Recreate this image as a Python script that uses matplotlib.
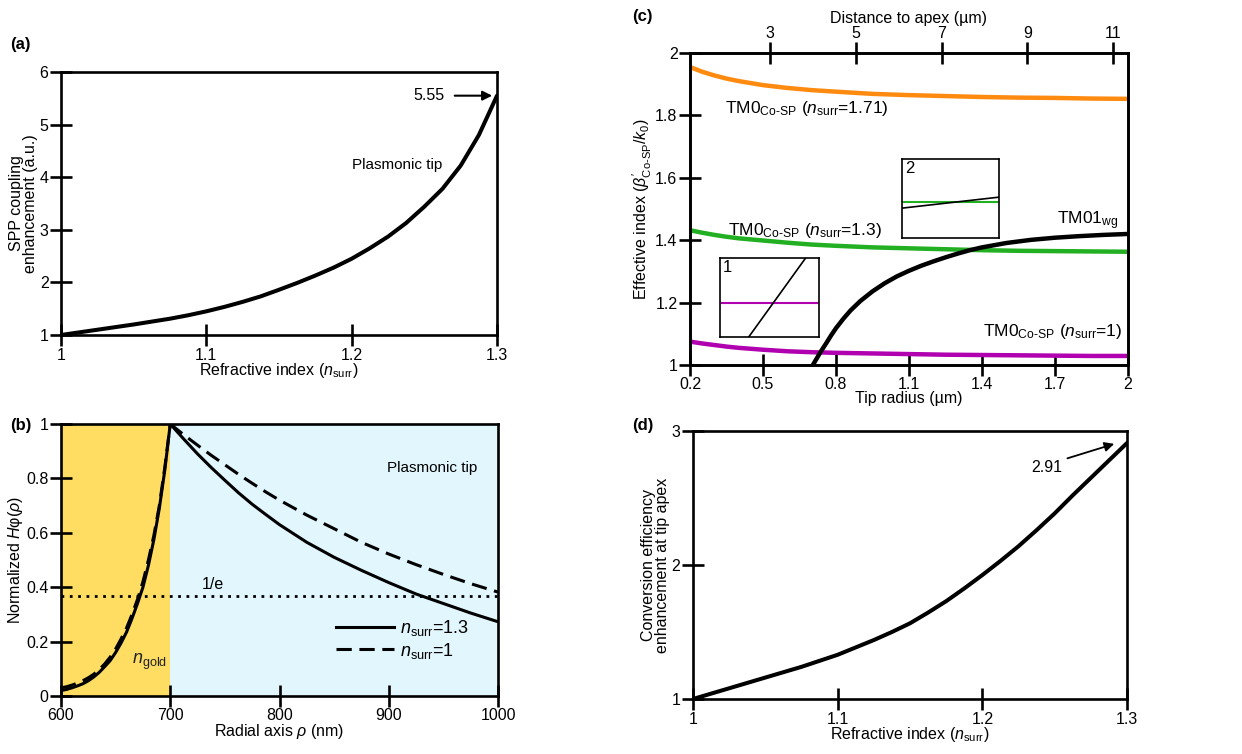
"""Four-panel figure: SPP coupling vs n_surr, field profiles, mode dispersion, conversion efficiency."""
import matplotlib
matplotlib.use("Agg")
import matplotlib.pyplot as plt
import numpy as np

plt.rcParams.update({
    "font.family": ["Liberation Sans", "DejaVu Sans"],
    "font.size": 11.5,
    "mathtext.fontset": "custom",
    "mathtext.rm": "Liberation Sans",
    "mathtext.it": "Liberation Sans:italic",
    "mathtext.bf": "Liberation Sans:bold",
    "axes.linewidth": 1.9,
    "xtick.direction": "inout",
    "ytick.direction": "inout",
    "xtick.major.size": 16,
    "ytick.major.size": 16,
    "xtick.major.width": 1.9,
    "ytick.major.width": 1.9,
    "xtick.major.pad": 1,
    "ytick.major.pad": 1,
    "xtick.labelsize": 11.5,
    "ytick.labelsize": 11.5,
})

# (a) SPP coupling enhancement vs surrounding index
n_a = [1.0, 1.0125, 1.025, 1.0375, 1.05, 1.0625, 1.075, 1.0875, 1.1, 1.1125, 1.125, 1.1375,
       1.15, 1.1625, 1.175, 1.1875, 1.2, 1.2125, 1.225, 1.2375, 1.25, 1.2625, 1.275, 1.2875, 1.3]
spp_enh = [1.0, 1.05, 1.1, 1.15, 1.2, 1.255, 1.31, 1.375, 1.45, 1.535, 1.63, 1.735,
           1.86, 1.99, 2.13, 2.28, 2.45, 2.65, 2.87, 3.13, 3.44, 3.78, 4.22, 4.8, 5.55]

# (b) normalized H_phi profile across the gold / surrounding interface
rho_in = [600, 605, 610, 615, 620, 625, 630, 635, 640, 645, 650, 655, 660, 665, 670, 675,
          680, 685, 690, 695, 700]
h_in_13 = [0.02, 0.024, 0.03, 0.037, 0.045, 0.056, 0.07, 0.087, 0.108, 0.13, 0.16, 0.195,
           0.235, 0.285, 0.34, 0.40, 0.48, 0.575, 0.69, 0.83, 1.0]
h_in_10 = [0.03, 0.034, 0.04, 0.047, 0.056, 0.067, 0.08, 0.097, 0.118, 0.143, 0.173, 0.21,
           0.25, 0.30, 0.355, 0.42, 0.5, 0.59, 0.7, 0.84, 1.0]
rho_out = [700, 712.5, 725, 737.5, 750, 762.5, 775, 787.5, 800, 825, 850, 875, 900, 925, 950,
           975, 1000]
h_out_13 = [1.0, 0.944, 0.89, 0.84, 0.793, 0.747, 0.705, 0.667, 0.63, 0.565, 0.51, 0.462,
            0.417, 0.375, 0.34, 0.305, 0.273]
h_out_10 = [1.0, 0.96, 0.922, 0.885, 0.85, 0.815, 0.782, 0.75, 0.72, 0.665, 0.615, 0.565,
            0.522, 0.483, 0.447, 0.413, 0.382]

# (c) effective index vs tip radius
radius = [0.2, 0.25, 0.3, 0.35, 0.4, 0.5, 0.6, 0.7, 0.8, 0.95, 1.1, 1.25, 1.4, 1.55, 1.7, 1.85, 2.0]
neff_171 = [1.955, 1.94, 1.928, 1.918, 1.91, 1.897, 1.888, 1.881, 1.876, 1.869, 1.865, 1.862,
            1.859, 1.857, 1.856, 1.854, 1.853]
neff_13 = [1.432, 1.424, 1.417, 1.411, 1.406, 1.399, 1.392, 1.386, 1.382, 1.377, 1.374, 1.371,
           1.368, 1.366, 1.365, 1.364, 1.363]
neff_10 = [1.075, 1.069, 1.064, 1.059, 1.055, 1.049, 1.044, 1.041, 1.039, 1.037, 1.035, 1.033,
           1.032, 1.031, 1.030, 1.029, 1.029]
radius_wg = [0.705, 0.72, 0.74, 0.76, 0.78, 0.8, 0.83, 0.86, 0.9, 0.95, 1.0, 1.05, 1.1, 1.15,
             1.2, 1.25, 1.3, 1.35, 1.4, 1.5, 1.6, 1.7, 1.8, 1.9, 2.0]
neff_wg = [1.0, 1.02, 1.046, 1.07, 1.095, 1.118, 1.148, 1.175, 1.205, 1.236, 1.262, 1.284,
           1.302, 1.318, 1.332, 1.345, 1.357, 1.368, 1.377, 1.391, 1.401, 1.408, 1.413, 1.417, 1.42]
apex_ticks = [3, 5, 7, 9, 11]
apex_lim = (1.125, 11.35)

# zoomed crossings (normalized inset coordinates)
inset1_x = [0.29, 0.865]
inset1_wg = [0.0, 1.0]
inset1_sp = [0.43, 0.43]
inset2_x = [0.0, 1.0]
inset2_wg = [0.378, 0.517]
inset2_sp = [0.45, 0.45]

# (d) conversion efficiency enhancement at the apex
n_d = [1.0, 1.0125, 1.025, 1.0375, 1.05, 1.0625, 1.075, 1.0875, 1.1, 1.1125, 1.125, 1.1375,
       1.15, 1.1625, 1.175, 1.1875, 1.2, 1.2125, 1.225, 1.2375, 1.25, 1.2625, 1.275, 1.2875, 1.3]
conv_enh = [1.0, 1.04, 1.08, 1.12, 1.16, 1.2, 1.24, 1.285, 1.33, 1.385, 1.44, 1.5,
            1.565, 1.645, 1.73, 1.825, 1.925, 2.03, 2.14, 2.26, 2.385, 2.52, 2.65, 2.78, 2.91]

ORANGE = "#ff8a10"
GREEN = "#22b022"
PURPLE = "#b000b0"
GOLD = "#ffdd63"
SKY = "#e2f6fd"

W, H = 1242, 754
fig = plt.figure(figsize=(W / 100, H / 100), dpi=100)


def px_axes(x0, y0, x1, y1, **kw):
    return fig.add_axes([x0 / W, 1 - y1 / H, (x1 - x0) / W, (y1 - y0) / H], **kw)


def nsurr_label(ax):
    ax.set_xlabel(r"Refractive index ($n_{\rm surr}$)", labelpad=-1)


# --- (a) ---
ax = px_axes(61, 72, 497, 335)
ax.plot(n_a, spp_enh, color="k", lw=2.9, solid_capstyle="round")
ax.set_xlim(1, 1.3)
ax.set_ylim(1, 6)
ax.set_xticks([1, 1.1, 1.2, 1.3])
ax.set_xticklabels(["1", "1.1", "1.2", "1.3"])
ax.set_yticks([1, 2, 3, 4, 5, 6])
nsurr_label(ax)
ax.set_ylabel("SPP coupling\nenhancement (a.u.)", labelpad=1, linespacing=0.95)
ax.annotate("", xy=(1.2986, spp_enh[-1]), xytext=(1.269, spp_enh[-1]),
            arrowprops=dict(arrowstyle="-|>", color="k", lw=1.5, mutation_scale=14))
ax.text(1.264, spp_enh[-1], "5.55", ha="right", va="center")
ax.text(1.262, 4.23, "Plasmonic tip", ha="right", va="center", fontsize=11)

# --- (b) ---
ax = px_axes(61, 424, 498, 696)
ax.axvspan(600, 700, color=GOLD, lw=0)
ax.axvspan(700, 1000, color=SKY, lw=0)
ax.plot(rho_in, h_in_13, color="k", lw=2.2)
ax.plot(rho_in, h_in_10, color="k", lw=2.2, ls=(0, (5, 2.5)))
ax.plot(rho_out, h_out_13, color="k", lw=2.2, label=r"$n_{\rm surr}$=1.3")
ax.plot(rho_out, h_out_10, color="k", lw=2.2, ls=(0, (5, 2.5)), label=r"$n_{\rm surr}$=1")
ax.axhline(1 / np.e, color="k", lw=2.0, ls=(0, (1, 2.0)))
ax.set_xlim(600, 1000)
ax.set_ylim(0, 1)
ax.set_xticks([600, 700, 800, 900, 1000])
ax.set_yticks([0, 0.2, 0.4, 0.6, 0.8, 1])
ax.set_yticklabels(["0", "0.2", "0.4", "0.6", "0.8", "1"])
ax.set_xlabel(r"Radial axis $\rho$ (nm)", labelpad=-1)
ax.set_ylabel(r"Normalized $H$φ($\rho$)", labelpad=1)
ax.text(739, 0.41, "1/e", ha="center", va="center")
ax.text(981, 0.84, "Plasmonic tip", ha="right", va="center", fontsize=11)
ax.text(665, 0.125, r"$n_{\rm gold}$", ha="left", va="center", fontsize=13, color="#222222")
ax.legend(loc="lower right", frameon=False, handlelength=3.2, handletextpad=0.3,
          labelspacing=0.15, fontsize=13, bbox_to_anchor=(0.97, 0.07))

# --- (c) ---
ax = px_axes(690, 53, 1128, 365)
ax.plot(radius, neff_171, color=ORANGE, lw=3.2)
ax.plot(radius, neff_13, color=GREEN, lw=3.2)
ax.plot(radius, neff_10, color=PURPLE, lw=3.2)
ax.plot(radius_wg, neff_wg, color="k", lw=3.2)
ax.set_xlim(0.2, 2)
ax.set_ylim(1, 2)
ax.set_xticks([0.2, 0.5, 0.8, 1.1, 1.4, 1.7, 2.0])
ax.set_xticklabels(["0.2", "0.5", "0.8", "1.1", "1.4", "1.7", "2"])
ax.set_yticks([1, 1.2, 1.4, 1.6, 1.8, 2])
ax.set_yticklabels(["1", "1.2", "1.4", "1.6", "1.8", "2"])
ax.set_xlabel("Tip radius (µm)", labelpad=-1)
ax.set_ylabel(r"Effective index ($\beta^{\prime}_{\text{Co-SP}}/k_0$)", labelpad=1)
ax.text(0.344, 1.823, r"TM0$_{\text{Co-SP}}$ ($n_{\rm surr}$=1.71)", ha="left", va="center",
        fontsize=12.5)
ax.text(0.356, 1.432, r"TM0$_{\text{Co-SP}}$ ($n_{\rm surr}$=1.3)", ha="left", va="center",
        fontsize=12.5)
ax.text(1.405, 1.106, r"TM0$_{\text{Co-SP}}$ ($n_{\rm surr}$=1)", ha="left", va="center",
        fontsize=12.5)
ax.text(1.708, 1.464, r"TM01$_{\rm wg}$", ha="left", va="center", fontsize=12.5)

top = ax.twiny()
top.set_xlim(*apex_lim)
top.set_xticks(apex_ticks)
top.set_xlabel("Distance to apex (µm)", labelpad=2)
top.tick_params(axis="x", pad=1)

for (x0, y0, x1, y1), xs, wg, sp, col, tag in [
        ((720, 258, 819, 337), inset1_x, inset1_wg, inset1_sp, PURPLE, "1"),
        ((902, 159, 999, 238), inset2_x, inset2_wg, inset2_sp, GREEN, "2")]:
    ins = px_axes(x0, y0, x1, y1)
    ins.patch.set_alpha(0)
    for s in ins.spines.values():
        s.set_linewidth(1.2)
    ins.plot([0, 1], sp, color=col, lw=1.5)
    ins.plot(xs, wg, color="k", lw=1.2)
    ins.set_xlim(0, 1)
    ins.set_ylim(0, 1)
    ins.set_xticks([])
    ins.set_yticks([])
    ins.text(0.03, 0.97, tag, transform=ins.transAxes, ha="left", va="top", fontsize=12)

# --- (d) ---
ax = px_axes(693, 431, 1127, 699)
ax.plot(n_d, conv_enh, color="k", lw=2.9, solid_capstyle="round")
ax.set_xlim(1, 1.3)
ax.set_ylim(1, 3)
ax.set_xticks([1, 1.1, 1.2, 1.3])
ax.set_xticklabels(["1", "1.1", "1.2", "1.3"])
ax.set_yticks([1, 2, 3])
nsurr_label(ax)
ax.set_ylabel("Conversion efficiency\nenhancement at tip apex", labelpad=1, linespacing=0.95)
ax.annotate("", xy=(1.293, conv_enh[-1]), xytext=(1.257, 2.79),
            arrowprops=dict(arrowstyle="-|>", color="k", lw=1.3, mutation_scale=14))
ax.text(1.255, 2.73, "2.91", ha="right", va="center")

for lab, x, y in [("(a)", 10, 45), ("(b)", 10, 425), ("(c)", 632, 17), ("(d)", 632, 425)]:
    fig.text(x / W, 1 - y / H, lab, ha="left", va="center", fontsize=12, fontweight="bold")

fig.savefig("out.png", dpi=100)
